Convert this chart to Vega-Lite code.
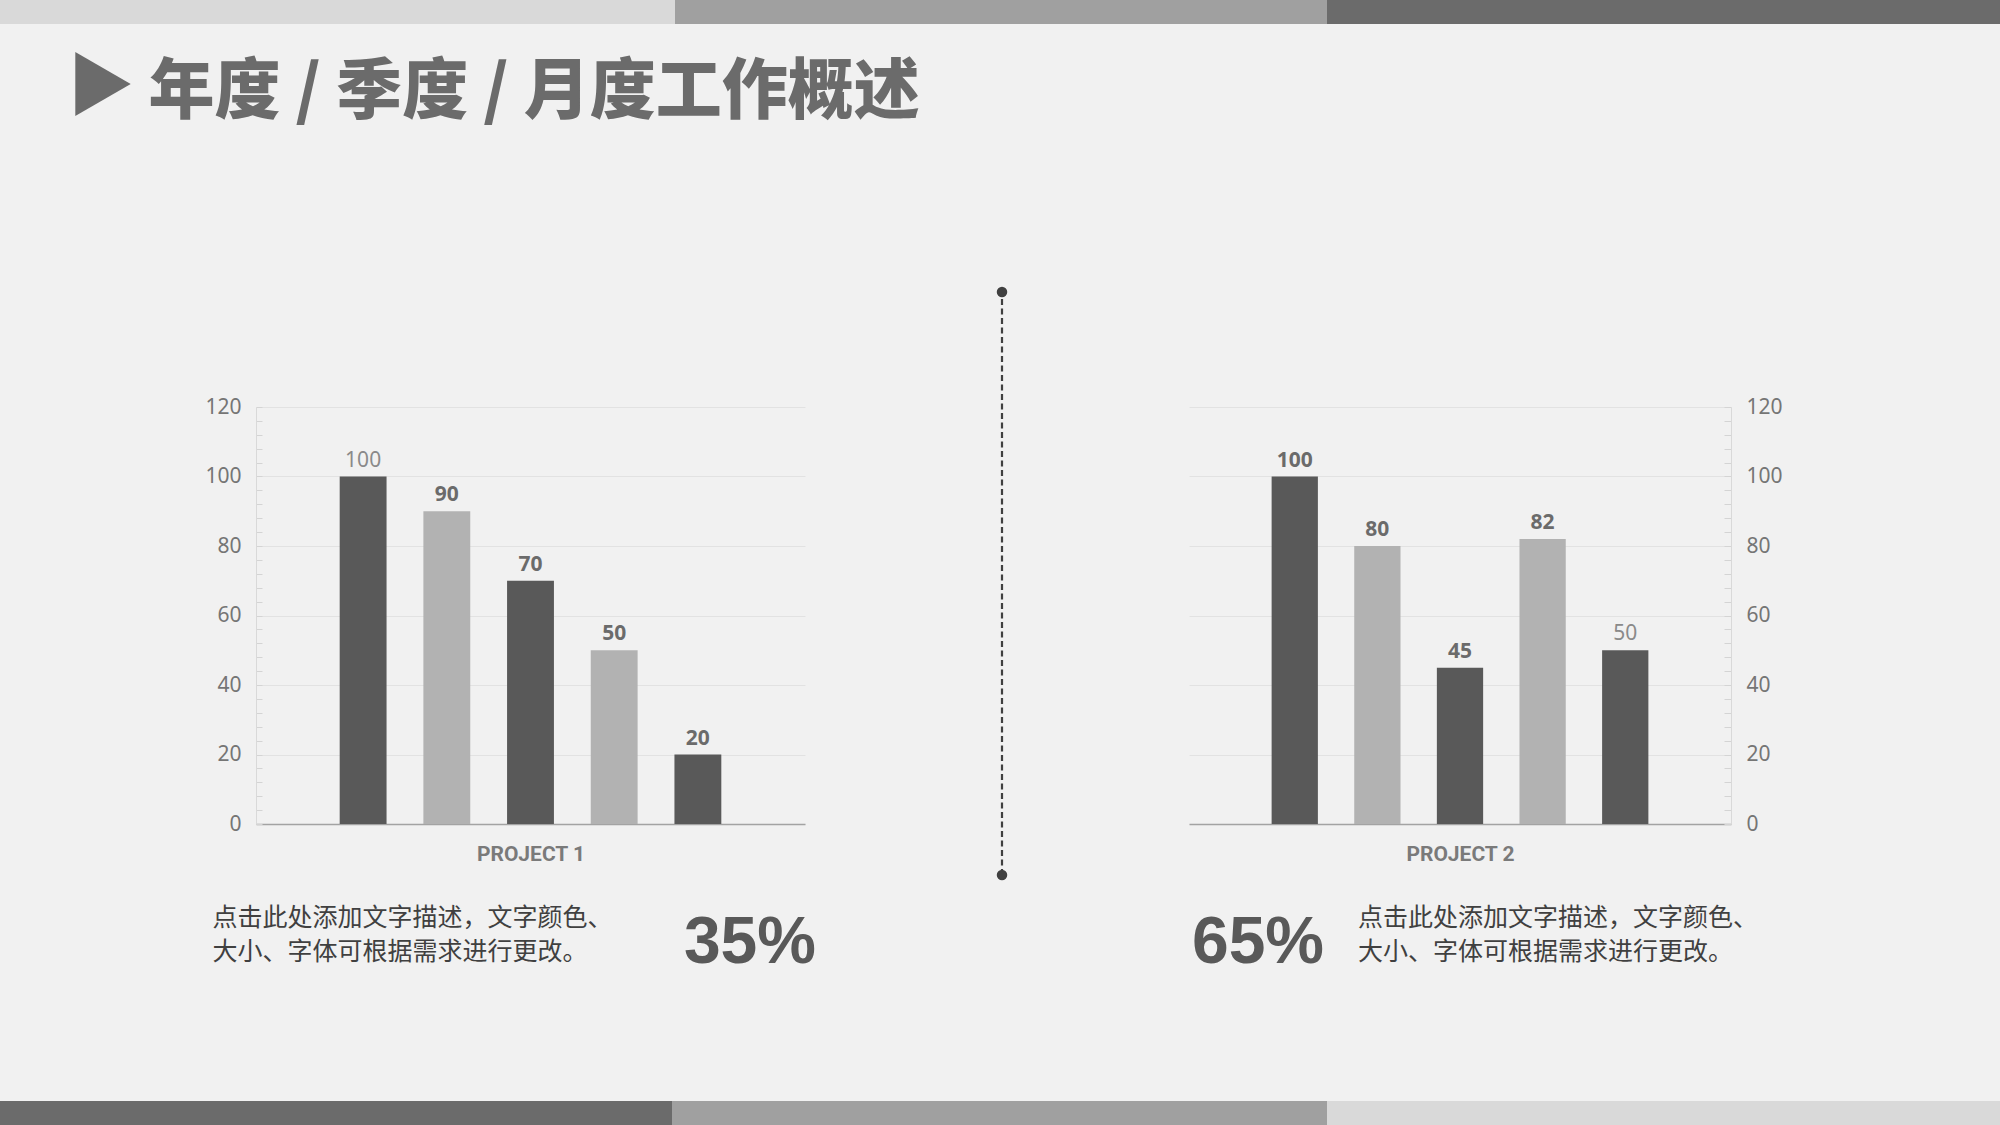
{
  "$schema": "https://vega.github.io/schema/vega-lite/v6.json",
  "background": "#f1f1f1",
  "padding": 0,
  "spacing": 0,
  "bounds": "full",
  "resolve": {"scale": {"color": "independent"}},
  "config": {"view": {"stroke": null}, "concat": {"spacing": 0}},
  "datasets": {
    "p1": [
      {"item": 1, "value": 100, "tone": "dark"},
      {"item": 2, "value": 90, "tone": "light"},
      {"item": 3, "value": 70, "tone": "dark"},
      {"item": 4, "value": 50, "tone": "light"},
      {"item": 5, "value": 20, "tone": "dark"}
    ],
    "p2": [
      {"item": 1, "value": 100, "tone": "dark"},
      {"item": 2, "value": 80, "tone": "light"},
      {"item": 3, "value": 45, "tone": "dark"},
      {"item": 4, "value": 82, "tone": "light"},
      {"item": 5, "value": 50, "tone": "dark"}
    ],
    "topband": [{"seg": "a", "w": 675}, {"seg": "b", "w": 652}, {"seg": "c", "w": 673}],
    "bottomband": [{"seg": "a", "w": 672}, {"seg": "b", "w": 655}, {"seg": "c", "w": 673}],
    "none": []
  },
  "vconcat": [
    {
      "width": 2000, "height": 24,
      "data": {"name": "topband"},
      "mark": {"type": "bar"},
      "encoding": {
        "x": {"field": "w", "type": "quantitative", "stack": "zero", "scale": {"domain": [0, 2000], "nice": false}, "axis": null},
        "y": {"datum": "band", "type": "nominal", "scale": {"paddingInner": 0, "paddingOuter": 0}, "axis": null},
        "color": {"field": "seg", "type": "nominal", "scale": {"domain": ["a", "b", "c"], "range": ["#d9d9d9", "#a0a0a0", "#6b6b6b"]}, "legend": null},
        "order": {"field": "seg"}
      }
    },
    {
      "columns": 9,
      "spacing": 0,
      "bounds": "flush",
      "align": "each",
      "resolve": {"scale": {"color": "independent"}},
      "concat": [
        {"width": 75, "height": 383, "data": {"name": "none"}, "mark": "point"},
        {
          "width": 56, "height": 120,
          "data": {"values": [{"k": "triangle"}]},
          "mark": {"type": "point", "shape": "triangle-right", "size": 4096, "filled": true, "color": "#6b6b6b", "opacity": 1},
          "encoding": {}
        },
        {
          "width": 1, "height": 138,
          "data": {"values": [{"t": "年度 / 季度 / 月度工作概述"}]},
          "mark": {"type": "text", "align": "left", "baseline": "middle", "font": "Noto Sans CJK SC", "fontWeight": 900, "fontSize": 66, "color": "#6b6b6b"},
          "encoding": {"text": {"field": "t"}}
        },
        {"width": 1, "height": 1, "data": {"name": "none"}, "mark": "point"},
        {"width": 1, "height": 1, "data": {"name": "none"}, "mark": "point"},
        {"width": 1, "height": 1, "data": {"name": "none"}, "mark": "point"},
        {"width": 1, "height": 1, "data": {"name": "none"}, "mark": "point"},
        {"width": 1, "height": 1, "data": {"name": "none"}, "mark": "point"},
        {"width": 1, "height": 1, "data": {"name": "none"}, "mark": "point"},

        {"width": 75, "height": 417, "data": {"name": "none"}, "mark": "point"},
        {"width": 1, "height": 1, "data": {"name": "none"}, "mark": "point"},
        {"width": 1, "height": 1, "data": {"name": "none"}, "mark": "point"},
        {"width": 1, "height": 1, "data": {"name": "none"}, "mark": "point"},
        {
          "width": 549, "height": 417,
          "data": {"name": "p1"},
          "encoding": {
            "x": {"field": "item", "type": "ordinal", "scale": {"paddingInner": 0.44, "paddingOuter": 1.0},
              "axis": {"title": "PROJECT 1", "labels": false, "ticks": false, "domainColor": "#a3a3a3", "domainWidth": 1.5,
                "titleFont": "Liberation Sans Narrow, Roboto", "titleFontSize": 21, "titleFontWeight": "bold", "titleColor": "#7a7a7a", "titlePadding": 19}},
            "y": {"field": "value", "type": "quantitative", "scale": {"domain": [0, 120], "nice": false},
              "axis": {"orient": "left", "title": null,
                "values": [0,4,8,12,16,20,24,28,32,36,40,44,48,52,56,60,64,68,72,76,80,84,88,92,96,100,104,108,112,116,120],
                "labelExpr": "datum.value % 20 === 0 ? datum.label : ''",
                "labelOverlap": false, "labelFont": "Noto Sans", "labelFontSize": 21, "labelColor": "#757575", "labelPadding": 21,
                "ticks": true, "tickSize": -6, "tickColor": "#d4d4d4", "tickWidth": 1,
                "domain": true, "domainColor": "#d9d9d9", "domainWidth": 1,
                "grid": true, "gridColor": "#e2e2e2", "gridWidth": 1,
                "gridOpacity": {"condition": {"test": "datum.value % 20 === 0", "value": 1}, "value": 0}}}
          },
          "layer": [
            {"mark": {"type": "bar"},
             "encoding": {"color": {"condition": {"test": "datum.tone === 'dark'", "value": "#595959"}, "value": "#b2b2b2"}}},
            {"transform": [{"filter": "datum.item != 1"}],
             "mark": {"type": "text", "baseline": "bottom", "dy": -6, "font": "Noto Sans", "fontSize": 21, "fontWeight": "bold", "color": "#6b6b6b"},
             "encoding": {"text": {"field": "value", "type": "quantitative"}}},
            {"transform": [{"filter": "datum.item == 1"}],
             "mark": {"type": "text", "baseline": "bottom", "dy": -6, "font": "Noto Sans", "fontSize": 21, "fontWeight": "normal", "color": "#8a8a8a"},
             "encoding": {"text": {"field": "value", "type": "quantitative"}}}
          ]
        },
        {"width": 1, "height": 1, "data": {"name": "none"}, "mark": "point"},
        {
          "width": 20, "height": 417,
          "layer": [
            {"data": {"values": [{"x": 0, "y": 0, "y2": 1}]},
             "mark": {"type": "rule", "color": "#404040", "strokeWidth": 2.2, "strokeDash": [6, 3.5]},
             "encoding": {
               "x": {"field": "x", "type": "quantitative", "scale": {"domain": [-1, 1]}, "axis": null},
               "y": {"field": "y", "type": "quantitative", "scale": {"domain": [0.08748, 0.80275], "nice": false, "zero": false}, "axis": null},
               "y2": {"field": "y2"}}},
            {"data": {"values": [{"x": 0, "y": 0}, {"x": 0, "y": 1}]},
             "mark": {"type": "circle", "size": 110, "color": "#404040", "opacity": 1},
             "encoding": {
               "x": {"field": "x", "type": "quantitative", "scale": {"domain": [-1, 1]}, "axis": null},
               "y": {"field": "y", "type": "quantitative", "scale": {"domain": [0.08748, 0.80275], "nice": false, "zero": false}, "axis": null}}}
          ]
        },
        {"width": 1, "height": 1, "data": {"name": "none"}, "mark": "point"},
        {
          "width": 542, "height": 417,
          "data": {"name": "p2"},
          "encoding": {
            "x": {"field": "item", "type": "ordinal", "scale": {"paddingInner": 0.44, "paddingOuter": 1.0},
              "axis": {"title": "PROJECT 2", "labels": false, "ticks": false, "domainColor": "#a3a3a3", "domainWidth": 1.5,
                "titleFont": "Liberation Sans Narrow, Roboto", "titleFontSize": 21, "titleFontWeight": "bold", "titleColor": "#7a7a7a", "titlePadding": 19}},
            "y": {"field": "value", "type": "quantitative", "scale": {"domain": [0, 120], "nice": false},
              "axis": {"orient": "right", "title": null,
                "values": [0,4,8,12,16,20,24,28,32,36,40,44,48,52,56,60,64,68,72,76,80,84,88,92,96,100,104,108,112,116,120],
                "labelExpr": "datum.value % 20 === 0 ? datum.label : ''",
                "labelOverlap": false, "labelFont": "Noto Sans", "labelFontSize": 21, "labelColor": "#757575", "labelPadding": 22,
                "ticks": true, "tickSize": -7, "tickColor": "#d4d4d4", "tickWidth": 1,
                "domain": true, "domainColor": "#d9d9d9", "domainWidth": 1,
                "grid": true, "gridColor": "#e2e2e2", "gridWidth": 1,
                "gridOpacity": {"condition": {"test": "datum.value % 20 === 0", "value": 1}, "value": 0}}}
          },
          "layer": [
            {"mark": {"type": "bar"},
             "encoding": {"color": {"condition": {"test": "datum.tone === 'dark'", "value": "#595959"}, "value": "#b2b2b2"}}},
            {"transform": [{"filter": "datum.item != 5"}],
             "mark": {"type": "text", "baseline": "bottom", "dy": -6, "font": "Noto Sans", "fontSize": 21, "fontWeight": "bold", "color": "#6b6b6b"},
             "encoding": {"text": {"field": "value", "type": "quantitative"}}},
            {"transform": [{"filter": "datum.item == 5"}],
             "mark": {"type": "text", "baseline": "bottom", "dy": -6, "font": "Noto Sans", "fontSize": 21, "fontWeight": "normal", "color": "#8a8a8a"},
             "encoding": {"text": {"field": "value", "type": "quantitative"}}}
          ]
        },

        {"width": 75, "height": 92.5, "data": {"name": "none"}, "mark": "point"},
        {"width": 73, "height": 1, "data": {"name": "none"}, "mark": "point"},
        {"width": 64, "height": 1, "data": {"name": "none"}, "mark": "point"},
        {"width": 44, "height": 1, "data": {"name": "none"}, "mark": "point"},
        {"width": 549, "height": 1, "data": {"name": "none"}, "mark": "point"},
        {"width": 187, "height": 1, "data": {"name": "none"}, "mark": "point"},
        {"width": 20, "height": 1, "data": {"name": "none"}, "mark": "point"},
        {"width": 177, "height": 1, "data": {"name": "none"}, "mark": "point"},
        {"width": 542, "height": 1, "data": {"name": "none"}, "mark": "point"},

        {"width": 75, "height": 24.5, "data": {"name": "none"}, "mark": "point"},
        {"width": 1, "height": 1, "data": {"name": "none"}, "mark": "point"},
        {"width": 1, "height": 1, "data": {"name": "none"}, "mark": "point"},
        {"width": 1, "height": 2,
         "data": {"values": [{"t": ["点击此处添加文字描述，文字颜色、", "大小、字体可根据需求进行更改。"]}]},
         "mark": {"type": "text", "align": "left", "baseline": "middle", "font": "Noto Sans CJK SC", "fontSize": 25, "lineHeight": 34, "color": "#404040"},
         "encoding": {"text": {"field": "t"}}},
        {"width": 1, "height": 1, "data": {"name": "none"}, "mark": "point"},
        {"width": 1, "height": 1, "data": {"name": "none"}, "mark": "point"},
        {"width": 1, "height": 1, "data": {"name": "none"}, "mark": "point"},
        {"width": 1, "height": 1, "data": {"name": "none"}, "mark": "point"},
        {"width": 338, "height": 2,
         "data": {"values": [{"t": ["点击此处添加文字描述，文字颜色、", "大小、字体可根据需求进行更改。"]}]},
         "mark": {"type": "text", "align": "left", "baseline": "middle", "font": "Noto Sans CJK SC", "fontSize": 25, "lineHeight": 34, "color": "#404040"},
         "encoding": {"text": {"field": "t"}}},

        {"width": 75, "height": 159, "data": {"name": "none"}, "mark": "point"},
        {"width": 1, "height": 1, "data": {"name": "none"}, "mark": "point"},
        {"width": 1, "height": 1, "data": {"name": "none"}, "mark": "point"},
        {"width": 1, "height": 1, "data": {"name": "none"}, "mark": "point"},
        {"width": 1, "height": 1, "data": {"name": "none"}, "mark": "point"},
        {"width": 22, "height": 2,
         "data": {"values": [{"t": "35%"}]},
         "mark": {"type": "text", "align": "right", "baseline": "middle", "font": "Liberation Sans", "fontWeight": "bold", "fontSize": 66, "color": "#595959"},
         "encoding": {"text": {"field": "t"}}},
        {"width": 1, "height": 1, "data": {"name": "none"}, "mark": "point"},
        {"width": 1, "height": 1, "data": {"name": "none"}, "mark": "point"},
        {"width": 138, "height": 2,
         "data": {"values": [{"t": "65%"}]},
         "mark": {"type": "text", "align": "center", "baseline": "middle", "font": "Liberation Sans", "fontWeight": "bold", "fontSize": 66, "color": "#595959"},
         "encoding": {"text": {"field": "t"}}}
      ]
    },
    {
      "width": 2000, "height": 25,
      "data": {"name": "bottomband"},
      "mark": {"type": "bar"},
      "encoding": {
        "x": {"field": "w", "type": "quantitative", "stack": "zero", "scale": {"domain": [0, 2000], "nice": false}, "axis": null},
        "y": {"datum": "band", "type": "nominal", "scale": {"paddingInner": 0, "paddingOuter": 0}, "axis": null},
        "color": {"field": "seg", "type": "nominal", "scale": {"domain": ["a", "b", "c"], "range": ["#6b6b6b", "#a0a0a0", "#d9d9d9"]}, "legend": null},
        "order": {"field": "seg"}
      }
    }
  ]
}
